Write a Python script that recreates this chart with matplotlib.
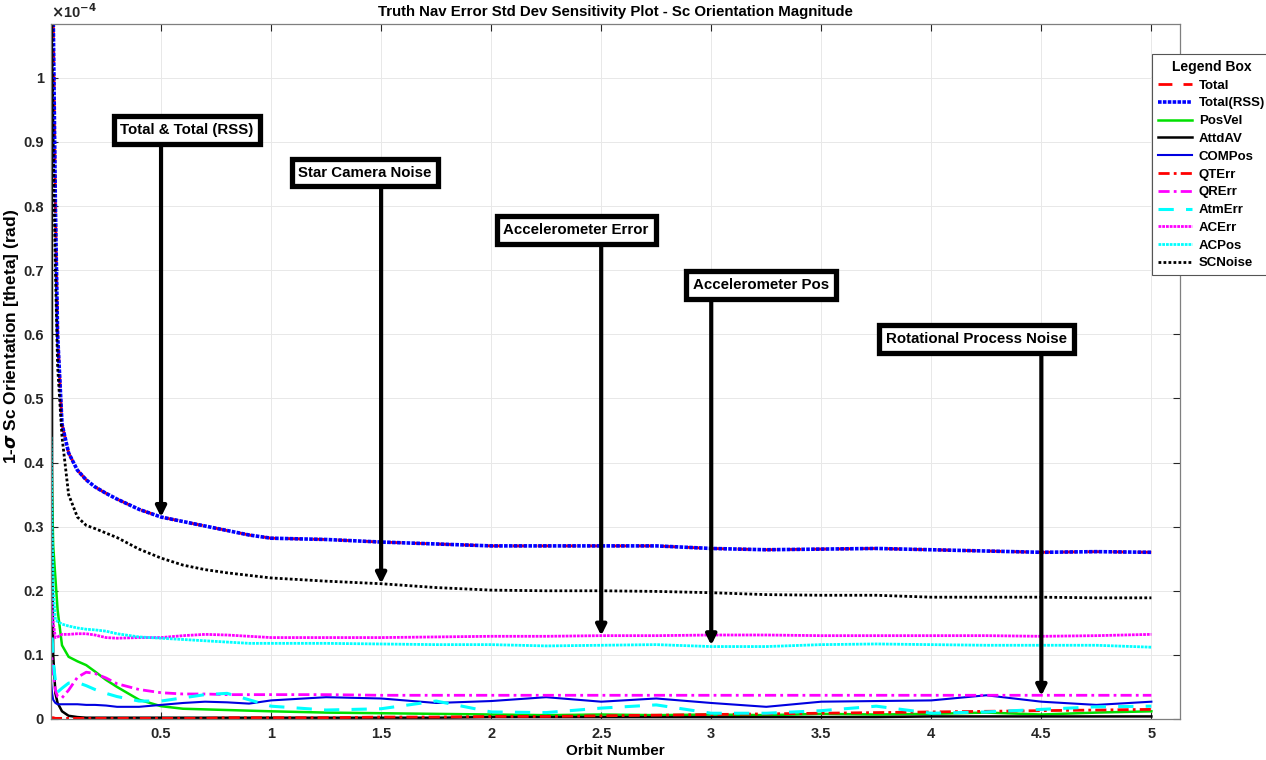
import matplotlib.pyplot as plt
from matplotlib.lines import Line2D

plt.rcParams['font.family'] = ['Liberation Sans', 'DejaVu Sans']
plt.rcParams['font.weight'] = 'bold'

# orbit samples and 1-sigma orientation error (units of 1e-4 rad)
orbit = [0, 0.005, 0.01, 0.02, 0.03, 0.05, 0.08, 0.12, 0.16, 0.2, 0.25, 0.3, 0.4, 0.5,
         0.6, 0.7, 0.8, 0.9, 1.0, 1.25, 1.5, 1.75, 2.0, 2.25, 2.5, 2.75, 3.0, 3.25,
         3.5, 3.75, 4.0, 4.25, 4.5, 4.75, 5.0]

total = [3.0, 1.5, 1.1, 0.8, 0.6, 0.46, 0.415, 0.388, 0.373, 0.362, 0.352, 0.343, 0.327, 0.315,
         0.308, 0.301, 0.294, 0.287, 0.282, 0.28, 0.276, 0.273, 0.27, 0.27, 0.27, 0.27, 0.266, 0.264,
         0.265, 0.266, 0.264, 0.262, 0.26, 0.261, 0.26]
total_rss = list(total)
pos_vel = [0.5, 0.35, 0.27, 0.22, 0.17, 0.115, 0.097, 0.09, 0.084, 0.074, 0.061, 0.05, 0.03, 0.02,
           0.016, 0.015, 0.014, 0.013, 0.012, 0.01, 0.009, 0.008, 0.007, 0.006, 0.007, 0.006, 0.007, 0.006,
           0.008, 0.007, 0.008, 0.01, 0.007, 0.01, 0.012]
attd_av = [3.0, 0.3, 0.1, 0.04, 0.025, 0.012, 0.005, 0.003, 0.002, 0.002, 0.002, 0.002, 0.002, 0.002,
           0.002, 0.002, 0.002, 0.002, 0.002, 0.002, 0.002, 0.002, 0.003, 0.003, 0.003, 0.003, 0.003, 0.003,
           0.003, 0.003, 0.004, 0.004, 0.004, 0.004, 0.004]
com_pos = [0.06, 0.04, 0.03, 0.025, 0.023, 0.023, 0.023, 0.023, 0.022, 0.022, 0.021, 0.019, 0.019, 0.022,
           0.025, 0.027, 0.026, 0.024, 0.029, 0.034, 0.032, 0.025, 0.028, 0.034, 0.027, 0.032, 0.025, 0.019,
           0.027, 0.028, 0.029, 0.037, 0.027, 0.022, 0.027]
qt_err = [0.002, 0.002, 0.002, 0.001, 0.001, 0.001, 0.001, 0.001, 0.001, 0.001, 0.001, 0.001, 0.001, 0.001,
          0.001, 0.001, 0.002, 0.002, 0.002, 0.002, 0.003, 0.003, 0.004, 0.004, 0.005, 0.006, 0.007, 0.008,
          0.009, 0.01, 0.011, 0.012, 0.013, 0.014, 0.015]
qr_err = [0.12, 0.09, 0.07, 0.045, 0.035, 0.033, 0.045, 0.065, 0.073, 0.071, 0.064, 0.055, 0.046, 0.041,
          0.039, 0.039, 0.038, 0.038, 0.038, 0.038, 0.037, 0.037, 0.037, 0.037, 0.037, 0.037, 0.037, 0.037,
          0.037, 0.037, 0.037, 0.037, 0.037, 0.037, 0.037]
atm_err = [0.17, 0.13, 0.09, 0.06, 0.042, 0.048, 0.056, 0.057, 0.052, 0.046, 0.04, 0.035, 0.028, 0.028,
           0.033, 0.038, 0.04, 0.03, 0.02, 0.014, 0.016, 0.028, 0.011, 0.01, 0.017, 0.022, 0.009, 0.009,
           0.013, 0.02, 0.009, 0.011, 0.015, 0.019, 0.02]
ac_err = [0.2, 0.17, 0.15, 0.127, 0.128, 0.132, 0.132, 0.133, 0.133, 0.131, 0.127, 0.126, 0.127, 0.127,
          0.13, 0.132, 0.131, 0.129, 0.127, 0.127, 0.127, 0.128, 0.129, 0.129, 0.13, 0.13, 0.131, 0.131,
          0.13, 0.13, 0.13, 0.13, 0.129, 0.13, 0.132]
ac_pos = [0.44, 0.3, 0.2, 0.155, 0.152, 0.148, 0.145, 0.142, 0.14, 0.139, 0.137, 0.133, 0.128, 0.126,
          0.124, 0.122, 0.12, 0.118, 0.118, 0.118, 0.117, 0.116, 0.116, 0.114, 0.115, 0.116, 0.113, 0.113,
          0.116, 0.117, 0.116, 0.115, 0.115, 0.115, 0.112]
sc_noise = [2.5, 1.05, 0.9, 0.7, 0.55, 0.44, 0.35, 0.315, 0.302, 0.297, 0.29, 0.283, 0.265, 0.251,
            0.24, 0.233, 0.228, 0.224, 0.22, 0.215, 0.211, 0.205, 0.201, 0.2, 0.2, 0.199, 0.197, 0.194,
            0.193, 0.193, 0.19, 0.19, 0.19, 0.189, 0.189]

# callouts: label, text centre (x, y), arrow x, arrow start y, arrow tip y
notes = [
    ('Total & Total (RSS)', 0.618, 0.919, 0.5, 0.894, 0.315),
    ('Star Camera Noise', 1.427, 0.852, 1.5, 0.827, 0.211),
    ('Accelerometer Error', 2.386, 0.763, 2.5, 0.738, 0.13),
    ('Accelerometer Pos', 3.227, 0.677, 3.0, 0.652, 0.115),
    ('Rotational Process Noise', 4.205, 0.593, 4.5, 0.568, 0.036),
]

dense_dot = (0, (1, 0.35))
dot = (0, (1, 0.8))
fig = plt.figure(figsize=(12.66, 7.6), dpi=100)
ax = fig.add_axes([51 / 1266, 1 - 719 / 760, 1129 / 1266, 695 / 760])

ax.plot(orbit, total, color='red', ls=(0, (5, 4)), lw=2, label='Total')
ax.plot(orbit, total_rss, color='blue', ls=dense_dot, lw=2.6, label='Total(RSS)')
ax.plot(orbit, pos_vel, color='#00e000', ls='-', lw=1.8, label='PosVel')
ax.plot(orbit, attd_av, color='black', ls='-', lw=1.8, label='AttdAV')
ax.plot(orbit, com_pos, color='#0000e0', ls='-', lw=1.5, label='COMPos')
ax.plot(orbit, qt_err, color='red', ls=(0, (4, 1.5, 1, 1.5)), lw=2, label='QTErr')
ax.plot(orbit, qr_err, color='magenta', ls=(0, (4, 1.5, 1, 1.5)), lw=2, label='QRErr')
ax.plot(orbit, atm_err, color='cyan', ls=(0, (5, 4)), lw=2.2, label='AtmErr')
ax.plot(orbit, ac_err, color='magenta', ls=dense_dot, lw=2, label='ACErr')
ax.plot(orbit, ac_pos, color='cyan', ls=dense_dot, lw=2, label='ACPos')
ax.plot(orbit, sc_noise, color='black', ls=dot, lw=2, label='SCNoise')

ax.set_xlim(0, 5.13)
ax.set_ylim(0, 1.084)
ax.set_xticks([0.5, 1, 1.5, 2, 2.5, 3, 3.5, 4, 4.5, 5])
ax.set_xticklabels(['0.5', '1', '1.5', '2', '2.5', '3', '3.5', '4', '4.5', '5'])
ax.set_yticks([i / 10 for i in range(11)])
ax.set_yticklabels(['0', '0.1', '0.2', '0.3', '0.4', '0.5', '0.6', '0.7', '0.8', '0.9', '1'])
ax.tick_params(direction='in', length=5, width=0.8, top=True, right=True,
               labelsize=10.5, colors='#262626', pad=6)
ax.tick_params(axis='y', pad=5)
ax.grid(True, color='#e8e8e8', lw=0.7)
for sp in ax.spines.values():
    sp.set_color('#7f7f7f')
    sp.set_linewidth(0.9)

ax.text(0, 1.004, r'$\times$10$^{\mathbf{-4}}$', transform=ax.transAxes, ha='left', va='bottom',
        fontsize=10.5, color='#262626')
ax.set_title('Truth Nav Error Std Dev Sensitivity Plot - Sc Orientation Magnitude',
             fontsize=10.8, fontweight='bold', pad=6)
ax.set_xlabel('Orbit Number', fontsize=11, fontweight='bold', labelpad=2)
ax.set_ylabel(r'1-$\sigma$ Sc Orientation [theta] (rad)', fontsize=12.5, fontweight='bold')
ax.yaxis.set_label_coords(-0.0265, 0.55)

for label, tx, ty, axx, y0, y1 in notes:
    ax.annotate('', xy=(axx, y1), xytext=(axx, y0),
                arrowprops=dict(arrowstyle='-|>', color='black', lw=3, mutation_scale=15,
                                shrinkA=0, shrinkB=0))
    ax.text(tx, ty, label, ha='center', va='center', fontsize=10.8, fontweight='bold',
            bbox=dict(boxstyle='square,pad=0.45', fc='white', ec='black', lw=3.8))

leg = fig.legend(loc='upper left', bbox_to_anchor=(1152 / 1266, 1 - 54 / 760),
                 title='Legend Box', fontsize=9.5, title_fontproperties={'weight': 'bold', 'size': 10},
                 frameon=True, fancybox=False, edgecolor='#555555', framealpha=1,
                 handlelength=2.6, handletextpad=0.5, labelspacing=0.42, borderaxespad=0,
                 borderpad=0.45)
leg.get_frame().set_linewidth(0.8)
fig.add_artist(Line2D([1152 / 1266, 1.0], [1 - 77 / 760, 1 - 77 / 760], color='#555555', lw=0.8))

fig.savefig('out.png', dpi=100)
